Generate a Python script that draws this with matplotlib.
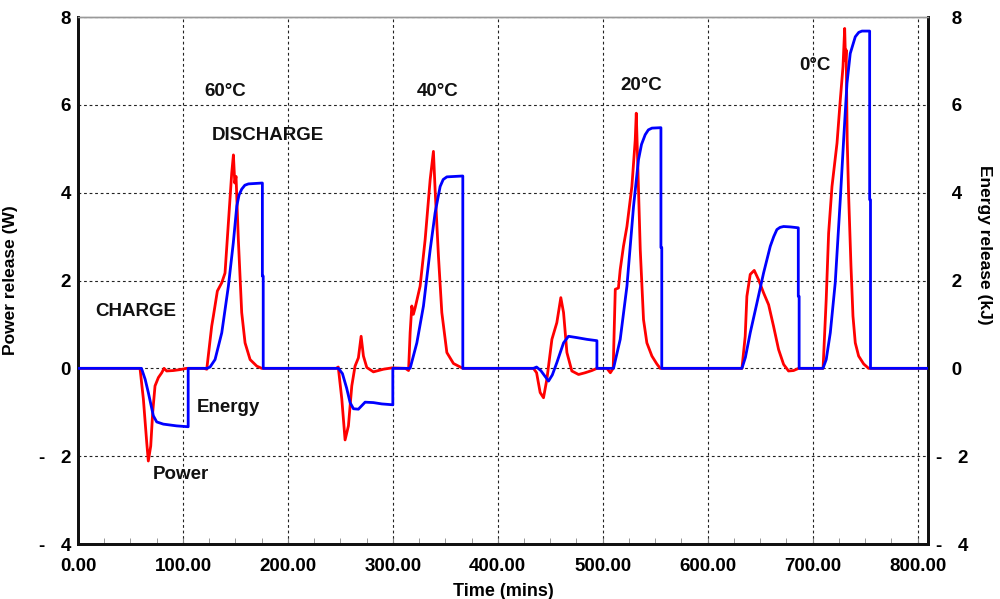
import matplotlib.pyplot as plt

plt.rcParams['font.family'] = ['Liberation Sans', 'DejaVu Sans']
plt.rcParams['font.weight'] = 'bold'

# Power release (W) against time (mins)
power_t = [0, 59.1, 62.3, 65.5, 67, 69.3, 71.2, 73.4, 76.6, 79.8, 82, 84.5, 90.8, 97.1, 103.4,
           120, 122.7, 127.4, 129, 132.8, 137, 140.1, 143.3, 146.5, 148.1, 149.4, 150.6, 152.8,
           156, 159.2, 164, 170.4, 175.1,
           246, 248, 251.4, 254.5, 257.7, 260.9, 264, 267.2, 269.8, 272, 275.2, 281.5, 291, 299,
           312, 315, 316.5, 318.1, 319.6, 321.3, 326, 330.8, 335.6, 338.7, 340.3, 343.5, 346.7,
           351.5, 357.8, 366.7,
           434, 437, 440.4, 443.6, 446.8, 451.6, 456.3, 460.1, 462.7, 465.9, 470.6, 477, 483.3,
           489.7, 494.5, 504, 507.3, 510, 512, 515, 516.7, 519.8, 523.1, 527.8, 531, 532, 533.5,
           535.8, 538.9, 542.1, 546.9, 551.6, 554.8,
           632.7, 635.8, 637.4, 640.6, 644.4, 648.5, 653.3, 658.1, 662.8, 667.6, 672.4, 677.1,
           681.9, 686.7,
           710, 713, 715.3, 718.5, 723.3, 726.4, 729, 730.6, 731.4, 732.0, 733.0, 734.3, 736.6,
           738.5, 740.7, 743.9, 748.7, 753.4, 810]
power_w = [0, 0, -0.7, -1.69, -2.11, -1.77, -1.0, -0.4, -0.21, -0.1, 0.0, -0.06, -0.05, -0.03, 0,
           0, -0.02, 0.96, 1.19, 1.76, 1.95, 2.17, 3.31, 4.45, 4.86, 4.22, 4.37, 2.93,
           1.27, 0.58, 0.2, 0.05, 0,
           0, 0.03, -0.7, -1.63, -1.31, -0.4, 0.05, 0.24, 0.73, 0.28, 0.02, -0.08, -0.02, 0.01,
           0, -0.05, 0.81, 1.42, 1.23, 1.38, 1.87, 2.93, 4.3, 4.94, 4.07, 2.55, 1.27,
           0.36, 0.11, 0,
           0, -0.1, -0.55, -0.67, -0.25, 0.66, 1.04, 1.61, 1.27, 0.36, -0.06, -0.14, -0.1,
           -0.05, 0, 0, -0.1, 0, 1.8, 1.83, 2.25, 2.78, 3.23, 4.14, 5.2, 5.81, 4.6,
           2.7, 1.11, 0.58, 0.28, 0.1, 0,
           0, 0.73, 1.64, 2.14, 2.23, 2.02, 1.72, 1.45, 0.96, 0.43, 0.09, -0.06,
           -0.05, 0,
           0, 1.57, 3.08, 4.14, 5.13, 6.11, 6.87, 7.74, 7.0, 7.25, 5.2, 3.99, 2.33,
           1.19, 0.58, 0.28, 0.1, 0, 0]

# Energy release (kJ) against time (mins)
energy_t = [0, 60.5, 64, 67, 71.8, 75, 81.3, 94, 105, 105,
            123, 125.8, 130.6, 137, 143.3, 148, 151.3, 153.5, 156, 159, 162.4, 175.7, 175.7,
            176.5, 176.5,
            248.2, 252, 256, 259.3, 262.5, 267.2, 270, 273.6, 281.5, 289.5, 300, 300,
            316.5, 322.9, 329.2, 335.6, 340.3, 345.1, 348, 351.5, 366.7, 366.7,
            434, 437, 441, 448.4, 452, 456.3, 462.7, 467.4, 475.4, 485, 494.5, 494.5,
            510.3, 516.7, 523.1, 529.4, 534.1, 537, 540.5, 543.5, 546.9, 555.5, 555.5, 556.3,
            556.3,
            632.7, 636, 640.6, 647, 653.3, 659.7, 663, 666, 669, 672.4, 679, 686.4, 686.4,
            687.2, 687.2,
            709.9, 713, 716.9, 721.6, 726.4, 729.6, 732.8, 735.9, 740.7, 744, 747.1, 754.4,
            754.4, 755.2, 755.2, 810]
energy_kj = [0, 0, -0.25, -0.55, -1.08, -1.22, -1.27, -1.31, -1.33, 0,
             0, 0.03, 0.2, 0.81, 1.87, 2.86, 3.69, 3.95, 4.08, 4.17, 4.2, 4.22, 2.1, 2.1, 0,
             0, -0.12, -0.45, -0.78, -0.92, -0.93, -0.86, -0.77, -0.78, -0.81, -0.83, 0,
             0, 0.58, 1.42, 2.7, 3.54, 4.14, 4.3, 4.36, 4.38, 0,
             0, 0.03, -0.05, -0.29, -0.15, 0.13, 0.58, 0.73, 0.7, 0.66, 0.63, 0,
             0, 0.66, 1.87, 3.69, 4.75, 5.1, 5.32, 5.43, 5.47, 5.48, 2.75, 2.75, 0,
             0, 0.25, 0.81, 1.49, 2.17, 2.78, 3.0, 3.16, 3.21, 3.23, 3.22, 3.2, 1.64, 1.64, 0,
             0, 0.2, 0.81, 1.95, 3.84, 5.2, 6.49, 7.17, 7.55, 7.65, 7.68, 7.68,
             3.84, 3.84, 0, 0]

x_ticks = [0, 100, 200, 300, 400, 500, 600, 700, 800]
y_ticks = [-4, -2, 0, 2, 4, 6, 8]
left_labels = ['-   4', '-   2', '0', '2', '4', '6', '8']
right_labels = ['-   4', '-   2', '   0', '   2', '   4', '   6', '   8']

notes = [
    ('60°C', 140, 6.3), ('DISCHARGE', 181, 5.3), ('CHARGE', 55.3, 1.3),
    ('Energy', 143, -0.9), ('Power', 98, -2.41), ('40°C', 343, 6.3),
    ('20°C', 537, 6.43), ('0°C', 702.6, 6.9),
]

fig = plt.figure(figsize=(10, 5.99), dpi=100)
ax = fig.add_axes([0.078, 0.0918, 0.85, 0.8798])
ax2 = ax.twinx()

ax.plot(power_t, power_w, color='#ff0000', linewidth=2.0, zorder=3)
ax2.plot(energy_t, energy_kj, color='#0000ff', linewidth=2.0, zorder=3)

for a in (ax, ax2):
    a.set_xlim(0, 810)
    a.set_ylim(-4, 8)
    a.set_yticks(y_ticks)

ax.set_xticks(x_ticks)
ax.set_xticklabels([f'{t:.2f}' for t in x_ticks])
ax.set_xticks(range(0, 811, 25), minor=True)
ax.tick_params(axis='x', which='both', direction='in', length=4, color='#888888',
               pad=10, labelsize=13.5)
ax.tick_params(axis='y', length=0, pad=5, labelsize=13.5)
ax2.tick_params(axis='y', length=0, pad=6, labelsize=13.5)
ax.set_yticklabels(left_labels)
ax2.set_yticklabels(right_labels, ha='left')

ax.grid(True, color='#222222', linestyle=(0, (2.5, 2.5)), linewidth=0.8)

for a in (ax, ax2):
    for side in ('left', 'right', 'bottom'):
        a.spines[side].set_linewidth(2)
        a.spines[side].set_color('#111111')
    a.spines['top'].set_color('#999999')
    a.spines['top'].set_linewidth(1)

ax.set_xlabel('Time (mins)', fontsize=13, fontweight='bold')
ax.xaxis.set_label_coords(0.5, -0.074)
ax.set_ylabel('Power release (W)', fontsize=12.5, fontweight='bold')
ax.yaxis.set_label_coords(-0.07, 0.5)
ax2.set_ylabel('Energy release (kJ)', fontsize=12.5, fontweight='bold', rotation=270,
               va='center')
ax2.yaxis.set_label_coords(1.067, 0.567)

for text, tx, ty in notes:
    ax2.text(tx, ty, text, ha='center', va='center', fontsize=13.5, fontweight='bold',
             color='#111111')

fig.savefig('out.png', dpi=100)
